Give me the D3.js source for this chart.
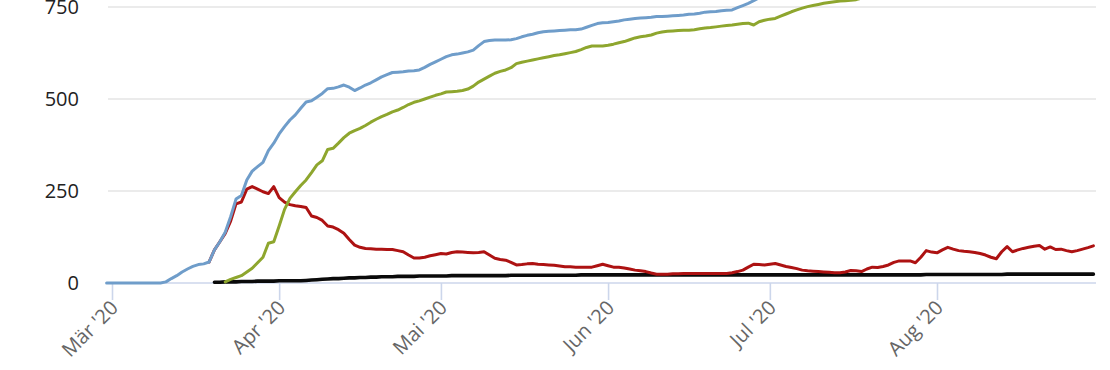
<!DOCTYPE html>
<html>
<head>
<meta charset="utf-8">
<script src="https://cdn.jsdelivr.net/npm/d3@7"></script>
<style>
  html, body { margin: 0; padding: 0; background: #fff; }
  svg { display: block; }
</style>
</head>
<body>
<svg id="chart" width="1110" height="370"></svg>
<script>
// ---- Data (daily values) ----
const monthTickDates = ["2020-03-01", "2020-04-01", "2020-05-01", "2020-06-01", "2020-07-01", "2020-08-01"];
const monthTickLabels = ["Mär '20", "Apr '20", "Mai '20", "Jun '20", "Jul '20", "Aug '20"];
const yTicks = [0, 250, 500, 750];

// Blue: cumulative cases, from 2020-02-29
const blueStart = "2020-02-29";
const blueValues = [
  0,0,0,0,0,0,0,0,0,0,0,
  3,12,20,30,38,45,50,52,57,90,112,
  138,180,228,238,280,304,316,328,360,380,
  405,425,443,457,475,492,495,505,515,528,
  529,533,538,532,523,530,538,544,552,560,
  566,572,573,574,576,577,579,586,594,601,
  608,615,620,622,625,628,633,645,656,659,
  660,660,660,661,664,669,673,676,680,683,
  684,685,686,687,688,688,690,695,700,705,
  707,708,710,712,715,717,719,720,721,722,
  724,724,725,726,727,728,730,731,733,736,
  737,738,740,741,742,748,754,760,767,775,
  785,790,795,796,798,801,803,804,806,808,
  810,812,813,814,816,819,824,826,828,838,
  847,850,857,865,875,882,886,890,890,907,
  929,929,931,943,954,954,954,955,958,960,
  961,961,961,962,981,999,999,1000,1006,1013,
  1020,1026,1027,1031,1032,1033,1034,1035,1041,1049,1057,1066
];

// Green: recovered, from 2020-03-22
const greenStart = "2020-03-22";
const greenValues = [
  3,10,15,20,30,40,55,70,108,112,
  155,200,230,248,265,280,300,321,332,363,
  366,380,395,407,414,420,428,437,445,452,
  458,465,470,477,485,491,495,500,505,510,
  514,519,520,521,523,527,535,546,554,562,
  570,575,579,585,596,600,603,606,609,612,
  615,618,620,623,626,629,634,640,644,644,
  644,646,649,653,656,661,666,669,671,674,
  679,682,684,685,686,687,687,688,691,693,
  694,696,698,700,701,703,705,706,701,710,
  714,717,719,725,731,737,742,747,751,754,
  757,760,762,764,766,767,768,770,774,778,
  782,786,790,794,797,800,804,808,812,815,
  818,822,826,830,834,838,842,846,850,854,
  858,862,866,870,873,876,880,884,888,892,
  896,900,905,909,913,917,921,925,929,933,937,941
];

// Red: active cases, from 2020-03-19
const redStart = "2020-03-19";
const redValues = [
  57,90,112,135,168,215,220,255,262,255,248,243,262,
  232,220,213,210,208,205,182,178,170,155,
  152,145,135,118,103,97,94,93,92,92,
  91,91,88,85,76,68,68,70,74,77,
  80,79,83,85,84,83,82,83,85,76,
  67,64,62,56,49,50,52,53,51,50,
  49,48,46,44,44,43,43,43,43,47,
  51,47,43,43,41,38,35,33,31,27,
  24,24,24,25,25,26,26,26,26,26,
  26,26,26,26,28,31,35,43,51,50,
  49,51,53,49,45,42,39,35,33,32,
  31,30,29,28,28,30,34,33,31,38,
  43,42,45,49,56,60,60,60,55,70,
  88,84,82,90,97,92,88,86,85,83,
  80,76,70,66,85,99,85,90,94,97,
  100,102,92,98,91,92,88,85,88,92,96,101
];

// Black: deaths, from 2020-03-20
const blackStart = "2020-03-20";
const blackValues = [
  2,2,3,3,3,4,4,4,5,5,5,5,
  6,6,6,6,6,7,8,9,10,11,
  12,12,13,14,14,15,15,16,16,17,
  17,17,18,18,18,18,19,19,19,19,
  19,19,20,20,20,20,20,20,20,20,
  20,20,20,21,21,21,21,21,21,21,
  21,21,21,21,21,21,22,22,22,22,
  22,22,22,22,22,22,22,22,22,22,
  22,22,22,22,22,22,22,22,22,22,
  22,22,22,22,22,22,22,22,22,22,
  22,22,22,22,22,22,22,22,22,22,
  22,22,22,22,22,22,22,22,22,22,
  22,22,22,22,22,22,22,22,22,22,
  23,23,23,23,23,23,23,23,23,23,
  23,23,23,23,23,
  24,24,24,24,24,24,24,24,24,24,24,24,24,24,24,24,24
];

// ---- Helpers ----
const parse = s => { const [y, m, d] = s.split("-").map(Number); return new Date(Date.UTC(y, m - 1, d)); };
const toSeries = (start, vals) => vals.map((v, i) => ({ date: d3.utcDay.offset(parse(start), i), value: v }));

const series = [
  { name: "deaths",    color: "#0a0a0a", width: 3.6, data: toSeries(blackStart, blackValues) },
  { name: "active",    color: "#ad1212", width: 3,   data: toSeries(redStart, redValues) },
  { name: "recovered", color: "#8ea62e", width: 3,   data: toSeries(greenStart, greenValues) },
  { name: "cases",     color: "#6f9dca", width: 3,   data: toSeries(blueStart, blueValues) }
];

// ---- Scales ----
const x = d3.scaleUtc().domain([parse("2020-03-01"), parse("2020-08-01")]).range([112, 937]);
const y = d3.scaleLinear().domain([0, 750]).range([283, 7]);
const plotLeft = 108, plotRight = 1096;

const svg = d3.select("#chart");

// Gridlines
svg.append("g")
  .selectAll("line")
  .data(yTicks.filter(t => t !== 0))
  .join("line")
  .attr("x1", plotLeft).attr("x2", plotRight)
  .attr("y1", d => y(d)).attr("y2", d => y(d))
  .attr("stroke", "#e4e4e4").attr("stroke-width", 1.4);

// Y axis labels
const yAxis = d3.axisLeft(y).tickValues(yTicks).tickSize(0).tickPadding(29);
const gy = svg.append("g").attr("transform", `translate(${plotLeft},0)`).call(yAxis);
gy.select(".domain").remove();
gy.selectAll("text")
  .attr("font-family", "'Open Sans', sans-serif")
  .attr("font-size", 20)
  .attr("fill", "#222");

// X axis
const xAxis = d3.axisBottom(x)
  .tickValues(monthTickDates.map(parse))
  .tickFormat((d, i) => monthTickLabels[i])
  .tickSize(17)
  .tickSizeOuter(0);
const gx = svg.append("g").attr("transform", `translate(0,${y(0)})`).call(xAxis);
gx.select(".domain").remove();
gx.append("line")
  .attr("x1", plotLeft).attr("x2", plotRight)
  .attr("y1", 0).attr("y2", 0)
  .attr("stroke", "#ccd6eb").attr("stroke-width", 1.6);
gx.selectAll(".tick line").attr("stroke", "#ccd6eb").attr("stroke-width", 1.6);
gx.selectAll(".tick text")
  .attr("font-family", "'Open Sans', sans-serif")
  .attr("font-size", 20)
  .attr("fill", "#666")
  .attr("text-anchor", "end")
  .attr("y", 0).attr("dy", "0.35em")
  .attr("transform", "translate(2,21) rotate(-45)");

// Lines
const line = d3.line()
  .defined(d => d.value != null)
  .x(d => x(d.date))
  .y(d => y(d.value));

svg.append("g")
  .selectAll("path")
  .data(series)
  .join("path")
  .attr("fill", "none")
  .attr("stroke", d => d.color)
  .attr("stroke-width", d => d.width)
  .attr("stroke-linejoin", "round")
  .attr("stroke-linecap", "round")
  .attr("d", d => line(d.data));
</script>
</body>
</html>
